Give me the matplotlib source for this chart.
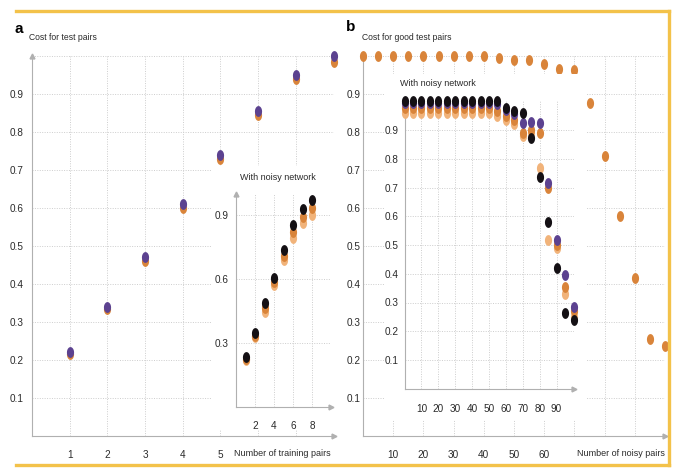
import numpy as np
import matplotlib
matplotlib.use("Agg")
import matplotlib.pyplot as plt
from matplotlib.patches import Rectangle
from matplotlib.lines import Line2D

# ---------------- data ----------------
a_x = [1, 2, 3, 4, 5, 6, 7, 8]
a_main_orange = [0.215, 0.335, 0.46, 0.60, 0.73, 0.845, 0.94, 0.985]
a_main_purple = [0.22, 0.34, 0.47, 0.61, 0.74, 0.855, 0.95, 1.0]
a_inset_tan = [0.22, 0.33, 0.447, 0.57, 0.69, 0.79, 0.862, 0.90]
a_inset_orange = [0.225, 0.335, 0.465, 0.585, 0.71, 0.82, 0.89, 0.935]
a_inset_black = [0.236, 0.345, 0.487, 0.604, 0.736, 0.853, 0.927, 0.97]

b_x = [0, 5, 10, 15, 20, 25, 30, 35, 40, 45, 50, 55, 60, 65, 70, 75, 80, 85, 90, 95, 100]
b_main_orange = [1.0, 1.0, 1.0, 1.0, 1.0, 1.0, 1.0, 1.0, 1.0, 0.995, 0.99, 0.99,
                 0.98, 0.965, 0.963, 0.876, 0.737, 0.578, 0.417, 0.255, 0.236]
b_inset_tan = [0.96, 0.96, 0.96, 0.96, 0.96, 0.96, 0.96, 0.96, 0.96, 0.96, 0.96, 0.95,
               0.935, 0.92, 0.88, 0.89, 0.767, 0.517, 0.488, 0.33, 0.25]
b_inset_orange = [0.975, 0.975, 0.975, 0.975, 0.975, 0.975, 0.975, 0.975, 0.975, 0.975, 0.975, 0.965,
                  0.95, 0.935, 0.89, 0.90, 0.888, 0.70, 0.50, 0.354, 0.27]
b_inset_purple = [0.995, 0.995, 0.995, 0.995, 0.995, 0.995, 0.995, 0.995, 0.995, 0.995, 0.995, 0.99,
                  0.97, 0.955, 0.924, 0.929, 0.923, 0.716, 0.517, 0.395, 0.285]
b_inset_black = [1.0, 1.0, 1.0, 1.0, 1.0, 1.0, 1.0, 1.0, 1.0, 1.0, 1.0, 1.0,
                 0.977, 0.967, 0.96, 0.872, 0.737, 0.58, 0.42, 0.262, 0.238]

a_main_yticks = [0.1, 0.2, 0.3, 0.4, 0.5, 0.6, 0.7, 0.8, 0.9]
a_main_xticks = [1, 2, 3, 4, 5]
a_inset_yticks = [0.3, 0.6, 0.9]
a_inset_xticks = [2, 4, 6, 8]
b_main_yticks = [0.1, 0.2, 0.3, 0.4, 0.5, 0.6, 0.7, 0.8, 0.9]
b_main_xticks = [10, 20, 30, 40, 50, 60]
b_inset_yticks = [0.1, 0.2, 0.3, 0.4, 0.5, 0.6, 0.7, 0.8, 0.9]
b_inset_xticks = [10, 20, 30, 40, 50, 60, 70, 80, 90]

# ---------------- style ----------------
plt.rcParams['font.family'] = ['Liberation Sans Narrow', 'Liberation Sans', 'DejaVu Sans']
W, H = 677, 468
fig = plt.figure(figsize=(W / 100, H / 100), dpi=100)
fig.patch.set_facecolor('white')

C_BLACK = '#141014'
C_PURPLE = '#5c4290'
C_ORANGE = '#d9843a'
C_TAN = '#f1b37a'
C_GRID = '#cdcdcd'
C_SPINE = '#b0b0b0'
C_TEXT = '#2a2a2a'
C_YELLOW = '#f3c24a'

t = np.linspace(0, 2 * np.pi, 48)
ELL = np.column_stack([0.66 * np.cos(t), np.sin(t)])
MS = 7.8


def pbox(l, t_, r, b):
    return [l / W, 1 - b / H, (r - l) / W, (b - t_) / H]


def style(ax, xlim, xticks, xlabels, ygrid, xgrid, yticks, ypad, xpad, fs=7.2):
    ax.set_xlim(*xlim)
    ax.set_ylim(0, 1.0)
    ax.patch.set_alpha(0)
    for s in ['top', 'right']:
        ax.spines[s].set_visible(False)
    for s in ['left', 'bottom']:
        ax.spines[s].set_color(C_SPINE)
        ax.spines[s].set_linewidth(0.8)
    ax.set_xticks(xticks)
    ax.set_xticklabels(xlabels)
    ax.set_yticks(yticks)
    ax.set_yticklabels([f'{v:.1f}' for v in yticks])
    ax.tick_params(length=0, labelsize=fs, labelcolor=C_TEXT)
    ax.tick_params(axis='y', pad=ypad)
    ax.tick_params(axis='x', pad=xpad)
    for g in ygrid:
        ax.axhline(g, color=C_GRID, lw=0.7, ls=(0, (1, 1.5)), zorder=0.5)
    for g in xgrid:
        ax.axvline(g, color=C_GRID, lw=0.7, ls=(0, (1, 1.5)), zorder=0.5)
    ax.plot([xlim[1]], [0], marker='>', ms=3.5, color=C_SPINE, clip_on=False, zorder=3)
    ax.plot([xlim[0]], [1.0], marker='^', ms=3.5, color=C_SPINE, clip_on=False, zorder=3)


def dots(ax, x, y, c, z):
    ax.plot(x, y, ls='none', marker=ELL, ms=MS, mfc=c, mec='none', clip_on=False, zorder=z)


# ---------------- panel a ----------------
ax_a = fig.add_axes(pbox(32, 56, 333.6, 436))
style(ax_a, (0, 8), a_main_xticks, [str(v) for v in a_main_xticks],
      [0.1 * k for k in range(1, 11)], list(range(1, 9)), a_main_yticks, 6, 10)
dots(ax_a, a_x, a_main_orange, C_ORANGE, 4)
dots(ax_a, a_x, a_main_purple, C_PURPLE, 5)
ax_a.add_patch(Rectangle((212 / W, 1 - 430 / H), (336 - 212) / W, (430 - 166) / H,
                         transform=fig.transFigure, facecolor='white', edgecolor='none', zorder=6))

ax_ai = fig.add_axes(pbox(236, 193.7, 331, 407))
ax_ai.set_zorder(2)
style(ax_ai, (0, 10), a_inset_xticks, [str(v) for v in a_inset_xticks],
      a_inset_yticks, a_inset_xticks, a_inset_yticks, 5, 10)
dots(ax_ai, a_x, a_inset_tan, C_TAN, 3)
dots(ax_ai, a_x, a_inset_orange, C_ORANGE, 4)
dots(ax_ai, a_x, a_inset_black, C_BLACK, 5)

# ---------------- panel b ----------------
ax_b = fig.add_axes(pbox(363, 56, 665, 436))
style(ax_b, (0, 100), b_main_xticks, [str(v) for v in b_main_xticks],
      [0.1 * k for k in range(1, 11)], list(range(10, 101, 10)), b_main_yticks, 2, 10)
dots(ax_b, b_x, b_main_orange, C_ORANGE, 5)
ax_b.add_patch(Rectangle((384 / W, 1 - 420 / H), (586 - 384) / W, (420 - 74) / H,
                         transform=fig.transFigure, facecolor='white', edgecolor='none', zorder=6))

ax_bi = fig.add_axes(pbox(404.5, 101.25, 573.5, 388.75))
ax_bi.set_zorder(2)
style(ax_bi, (0, 100), b_inset_xticks, [str(v) for v in b_inset_xticks],
      b_inset_yticks, b_inset_xticks, b_inset_yticks, 4, 11)
dots(ax_bi, b_x, b_inset_tan, C_TAN, 3)
dots(ax_bi, b_x, b_inset_orange, C_ORANGE, 4)
dots(ax_bi, b_x, b_inset_purple, C_PURPLE, 5)
dots(ax_bi, b_x, b_inset_black, C_BLACK, 6)

# ---------------- texts ----------------
def ftext(x, y, s, color=C_TEXT, **kw):
    fig.text(x / W, 1 - y / H, s, color=color, **kw)

ftext(19, 29, 'a', fontsize=11, fontweight='bold', ha='center', va='center', color='black')
ftext(29, 37, 'Cost for test pairs', fontsize=6.2, ha='left', va='center')
ftext(351, 27, 'b', fontsize=11, fontweight='bold', ha='center', va='center', color='black')
ftext(362, 37, 'Cost for good test pairs', fontsize=6.2, ha='left', va='center')
ftext(278, 177, 'With noisy network', fontsize=6.5, ha='center', va='center')
ftext(438, 83, 'With noisy network', fontsize=6.5, ha='center', va='center')
ftext(282, 453, 'Number of training pairs', fontsize=6.5, ha='center', va='center')
ftext(621, 453, 'Number of noisy pairs', fontsize=6.5, ha='center', va='center')

# ---------------- yellow frame ----------------
def fline(xs, ys):
    fig.add_artist(Line2D([x / W for x in xs], [1 - y / H for y in ys], color=C_YELLOW,
                          lw=2.4, solid_capstyle='projecting', transform=fig.transFigure))

fline([16, 669], [11, 11])
fline([16, 669], [465, 465])
fline([669, 669], [11, 465])

fig.savefig('out.png', dpi=100, facecolor='white')
